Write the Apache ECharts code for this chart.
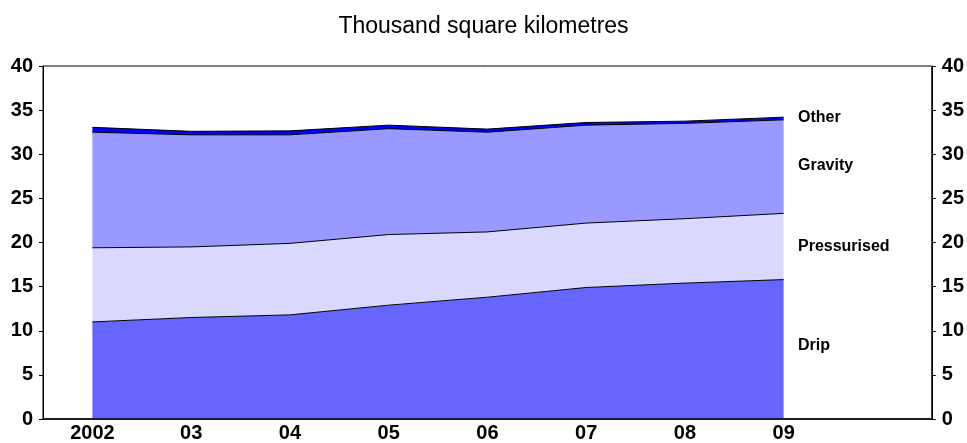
<!DOCTYPE html>
<html>
<head>
<meta charset="utf-8">
<script src="https://cdn.jsdelivr.net/npm/echarts@6/dist/echarts.min.js"></script>
<style>
  html, body { margin: 0; padding: 0; background: #fff; }
  #main { width: 967px; height: 443px; }
</style>
</head>
<body>
<div id="main"></div>
<script>
var years = ['2002', '03', '04', '05', '06', '07', '08', '09', ''];
var drip = [11.0, 11.5, 11.8, 12.9, 13.8, 14.9, 15.4, 15.8];
var pressurised = [8.4, 8.0, 8.1, 8.0, 7.4, 7.3, 7.3, 7.5];
var gravity = [13.1, 12.7, 12.3, 12.0, 11.3, 11.1, 10.8, 10.6];
var other = [0.55, 0.4, 0.45, 0.4, 0.35, 0.3, 0.25, 0.3];
var yTicks = [0, 5, 10, 15, 20, 25, 30, 35, 40];

var font = 'Liberation Sans, Arial, sans-serif';

function band(name, data, color) {
    return {
        name: name,
        type: 'line',
        stack: 'total',
        data: data,
        symbol: 'none',
        smooth: false,
        lineStyle: { color: '#000', width: 1 },
        areaStyle: { color: color, opacity: 1 },
        itemStyle: { color: color }
    };
}

function valueAxis(pos) {
    return {
        type: 'value',
        min: yTicks[0], max: yTicks[yTicks.length - 1], interval: 5,
        position: pos,
        axisLine: { show: true, lineStyle: { color: '#000' } },
        axisTick: { show: true, length: 4, lineStyle: { color: '#000' } },
        axisLabel: { fontFamily: font, fontSize: 20, fontWeight: 'bold', color: '#000', margin: 10 },
        splitLine: { show: false }
    };
}

var myChart = echarts.init(document.getElementById('main'));
var option = {
    animation: false,
    title: {
        text: 'Thousand square kilometres',
        left: 'center',
        top: 10,
        textStyle: { fontFamily: font, fontSize: 23, fontWeight: 'normal', color: '#000' }
    },
    grid: {
        left: 43, right: 33, top: 66, bottom: 19,
        show: true, borderColor: '#000', borderWidth: 1
    },
    xAxis: {
        type: 'category',
        data: years,
        boundaryGap: true,
        z: 10,
        axisLine: { lineStyle: { color: '#000', width: 1.5 } },
        axisTick: { inside: true, length: 5, lineStyle: { color: '#000' } },
        axisLabel: { fontFamily: font, fontSize: 20, fontWeight: 'bold', color: '#000', margin: 4 },
        splitLine: { show: false }
    },
    yAxis: [valueAxis('left'), valueAxis('right')],
    series: [
        band('Drip', drip, '#6666ff'),
        band('Pressurised', pressurised, '#d9d9ff'),
        band('Gravity', gravity, '#9999ff'),
        band('Other', other, '#0000ff')
    ],
    graphic: [
        { type: 'text', left: 798, top: 110, style: { text: 'Other', font: 'bold 16px ' + font, fill: '#000' } },
        { type: 'text', left: 798, top: 158, style: { text: 'Gravity', font: 'bold 16px ' + font, fill: '#000' } },
        { type: 'text', left: 798, top: 239, style: { text: 'Pressurised', font: 'bold 16px ' + font, fill: '#000' } },
        { type: 'text', left: 798, top: 338, style: { text: 'Drip', font: 'bold 16px ' + font, fill: '#000' } }
    ]
};
myChart.setOption(option);
</script>
</body>
</html>
